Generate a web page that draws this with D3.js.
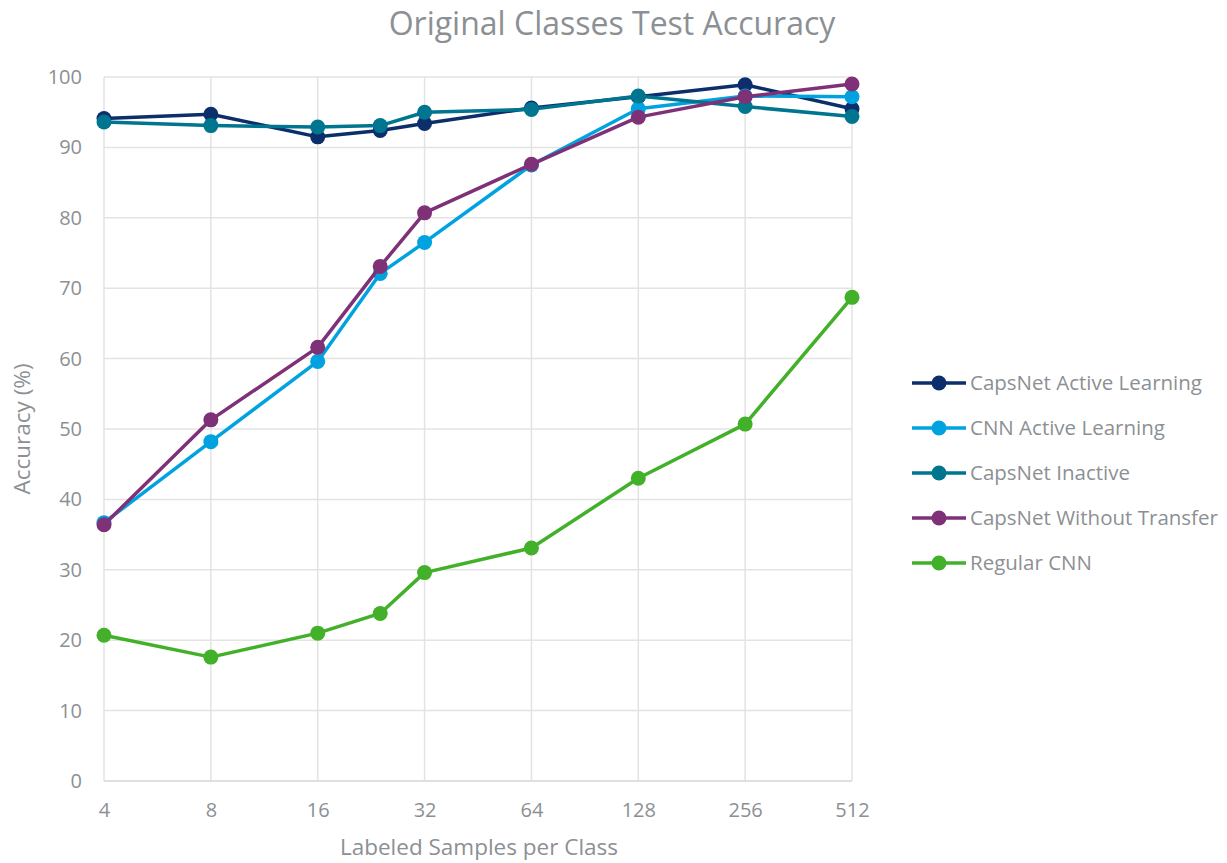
<!DOCTYPE html>
<html>
<head>
<meta charset="utf-8">
<script src="https://cdn.jsdelivr.net/npm/d3@7"></script>
<style>
  html, body { margin: 0; padding: 0; background: #fff; }
  svg { display: block; font-family: "Open Sans", "Noto Sans", sans-serif; }
</style>
</head>
<body>
<svg id="chart" width="1227" height="863"></svg>
<script>
const samples = [4, 8, 16, 24, 32, 64, 128, 256, 512];
const xTicks = [4, 8, 16, 32, 64, 128, 256, 512];
const yTicks = [0, 10, 20, 30, 40, 50, 60, 70, 80, 90, 100];

const capsActive   = [94.1, 94.7, 91.5, 92.4, 93.4, 95.6, 97.2, 98.9, 95.5];
const cnnActive    = [36.7, 48.2, 59.6, 72.1, 76.5, 87.5, 95.5, 97.3, 97.2];
const capsInactive = [93.6, 93.1, 92.9, 93.1, 95.0, 95.4, 97.3, 95.8, 94.4];
const capsNoTrans  = [36.4, 51.3, 61.6, 73.1, 80.7, 87.6, 94.3, 97.2, 99.0];
const regularCnn   = [20.7, 17.6, 21.0, 23.8, 29.6, 33.1, 43.0, 50.7, 68.7];

const seriesNames = ["CapsNet Active Learning", "CNN Active Learning", "CapsNet Inactive", "CapsNet Without Transfer", "Regular CNN"];
const seriesValues = [capsActive, cnnActive, capsInactive, capsNoTrans, regularCnn];
const seriesColors = ["#0c2f6b", "#00a3e0", "#00758f", "#7f3178", "#43b02a"];

const svg = d3.select("#chart");
const pLeft = 104, pRight = 852, pTop = 77, pBottom = 781;
const textColor = "#8c9094";

const x = d3.scaleLog().base(2).domain([4, 512]).range([pLeft, pRight]);
const y = d3.scaleLinear().domain([0, 100]).range([pBottom, pTop]);

// gridlines
svg.append("g").selectAll("line").data(yTicks.filter(d => d > 0)).join("line")
  .attr("x1", pLeft).attr("x2", pRight)
  .attr("y1", d => y(d)).attr("y2", d => y(d))
  .attr("stroke", "#e3e3e3").attr("stroke-width", 1.5);
svg.append("g").selectAll("line").data(xTicks).join("line")
  .attr("x1", d => x(d)).attr("x2", d => x(d))
  .attr("y1", pTop).attr("y2", pBottom)
  .attr("stroke", "#e3e3e3").attr("stroke-width", 1.5);
svg.append("line").attr("x1", pLeft).attr("x2", pRight)
  .attr("y1", pBottom).attr("y2", pBottom)
  .attr("stroke", "#d6d6d6").attr("stroke-width", 1.5);

const xAxis = svg.append("g").attr("transform", `translate(0,${pBottom})`)
  .call(d3.axisBottom(x).tickValues(xTicks).tickFormat(d3.format("d")).tickSize(0).tickPadding(22));
xAxis.select(".domain").remove();
xAxis.selectAll("text").attr("fill", textColor).attr("font-size", 20).attr("font-family", "Open Sans");

const yAxis = svg.append("g").attr("transform", `translate(${pLeft},0)`)
  .call(d3.axisLeft(y).tickValues(yTicks).tickSize(0).tickPadding(22));
yAxis.select(".domain").remove();
yAxis.selectAll("text").attr("fill", textColor).attr("font-size", 20).attr("font-family", "Open Sans");

svg.append("text").attr("x", 612).attr("y", 35).attr("text-anchor", "middle")
  .attr("fill", textColor).attr("font-size", 32).attr("font-family", "Open Sans")
  .text("Original Classes Test Accuracy");
svg.append("text").attr("x", 479).attr("y", 855).attr("text-anchor", "middle")
  .attr("fill", textColor).attr("font-size", 22.5).attr("font-family", "Open Sans")
  .text("Labeled Samples per Class");
svg.append("text").attr("transform", "translate(30,429) rotate(-90)").attr("text-anchor", "middle")
  .attr("fill", textColor).attr("font-size", 22.5).attr("font-family", "Open Sans")
  .text("Accuracy (%)");

const line = d3.line().x(d => x(d[0])).y(d => y(d[1]));
seriesValues.forEach((vals, i) => {
  const pts = samples.map((s, j) => [s, vals[j]]);
  const g = svg.append("g");
  g.append("path").datum(pts).attr("d", line)
    .attr("fill", "none").attr("stroke", seriesColors[i]).attr("stroke-width", 3.5)
    .attr("stroke-linejoin", "round");
  g.selectAll("circle").data(pts).join("circle")
    .attr("cx", d => x(d[0])).attr("cy", d => y(d[1])).attr("r", 7.5)
    .attr("fill", seriesColors[i]);
});

const legend = svg.append("g");
seriesNames.forEach((name, i) => {
  const ly = 383 + i * 45;
  legend.append("line").attr("x1", 912).attr("x2", 966).attr("y1", ly).attr("y2", ly)
    .attr("stroke", seriesColors[i]).attr("stroke-width", 3.5);
  legend.append("circle").attr("cx", 939).attr("cy", ly).attr("r", 7.5).attr("fill", seriesColors[i]);
  legend.append("text").attr("x", 970).attr("y", ly + 7)
    .attr("fill", textColor).attr("font-size", 20.5).attr("font-family", "Open Sans")
    .text(name);
});
</script>
</body>
</html>
